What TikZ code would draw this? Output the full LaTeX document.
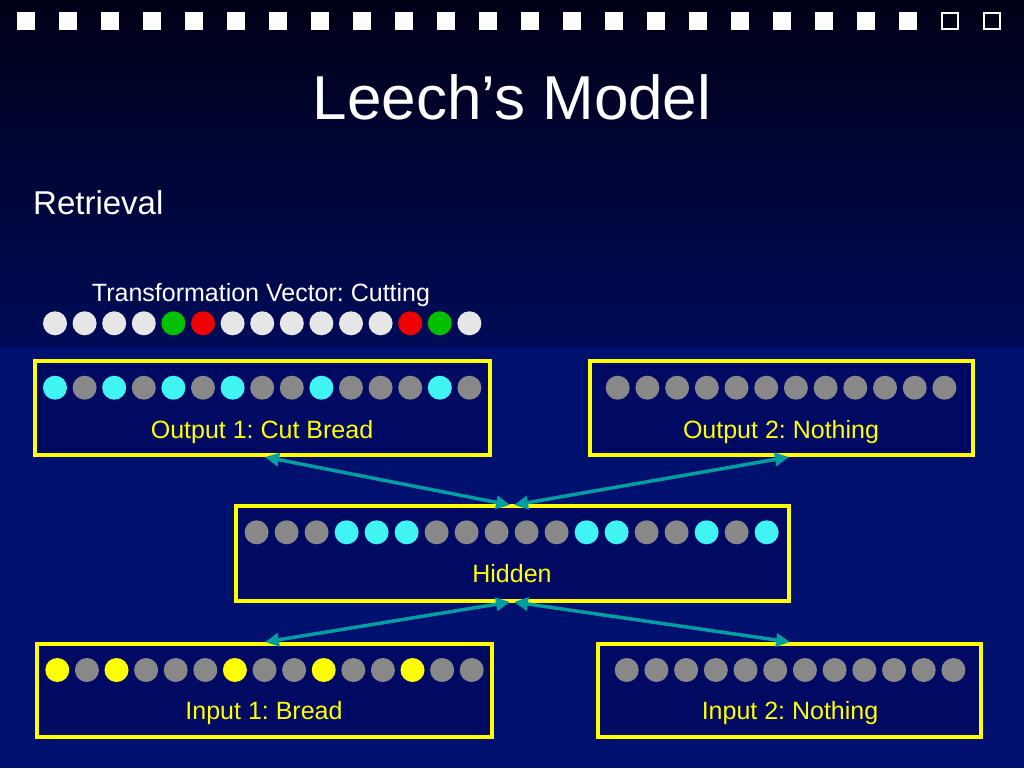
\documentclass[tikz,border=0pt]{standalone}
\usepackage{fontspec}
\setmainfont{Liberation Sans}
\frenchspacing
\usetikzlibrary{arrows.meta,calc}
\definecolor{bgtop}{HTML}{000016}
\definecolor{bgmid}{HTML}{000B58}
\definecolor{bglow}{HTML}{00106E}
\definecolor{boxfill}{HTML}{000A62}
\definecolor{ylw}{HTML}{FFFF00}
\definecolor{cyn}{HTML}{40F4F4}
\definecolor{gry}{HTML}{888888}
\definecolor{wht}{HTML}{E6E6E6}
\definecolor{grn}{HTML}{00C000}
\definecolor{rd}{HTML}{F00000}
\definecolor{tealc}{HTML}{009EA0}
\begin{document}
\begin{tikzpicture}[x=1pt,y=-1pt,
  box/.style={draw=ylw, line width=4pt, fill=boxfill, rectangle, inner sep=0pt, outer sep=0pt},
  lbl/.style={text=ylw, font=\fontsize{25}{30}\selectfont, anchor=base, inner sep=0pt},
  conn/.style={draw=tealc, line width=3.5pt, {Triangle[length=14pt,width=13pt]}-{Triangle[length=14pt,width=13pt]}},
  navsq/.style={fill=white},
  navsqo/.style={draw=white, line width=2pt, fill=bgtop}]
% background
\useasboundingbox (0,0) rectangle (1024,768);
\shade[top color=bgtop, bottom color=bgmid] (0,0) rectangle (1024,347);
\fill[bglow] (0,347) rectangle (1024,768);
% navigation squares
\foreach \i in {0,...,21} \fill[navsq] ({16.5+42*\i},12.5) rectangle ++(18,18);
\foreach \i in {22,23} \draw[navsqo] ({17.5+42*\i},13.5) rectangle ++(16,16);
% title and subtitle
\node[text=white, font=\fontsize{62}{70}\selectfont, anchor=base, inner sep=0pt] (title) at (512,119) {Leech’s Model};
\node[text=white, font=\fontsize{33}{38}\selectfont, anchor=base west, inner sep=0pt] (retr) at (33,214) {Retrieval};
\node[text=white, font=\fontsize{25}{30}\selectfont, anchor=base, inner sep=0pt] (tvlabel) at (261,301) {Transformation Vector: Cutting};
\foreach \c [count=\i from 0] in {wht,wht,wht,wht,grn,rd,wht,wht,wht,wht,wht,wht,rd,grn,wht}
  \fill[\c] ({55+29.6*\i},323.3) circle[radius=12pt];
% boxes
\node[box, minimum width=455pt, minimum height=94pt] (out1) at (262.5,408) {};
\node[box, minimum width=383pt, minimum height=94pt] (out2) at (781.5,408) {};
\node[box, minimum width=553pt, minimum height=95pt] (hid) at (512,553.5) {};
\node[box, minimum width=455pt, minimum height=93pt] (in1) at (264.5,690.5) {};
\node[box, minimum width=383pt, minimum height=93pt] (in2) at (789.5,690.5) {};
% dots
\foreach \c [count=\i from 0] in {cyn,gry,cyn,gry,cyn,gry,cyn,gry,gry,cyn,gry,gry,gry,cyn,gry}
  \fill[\c] ({55+29.6*\i},387.7) circle[radius=12pt];
\foreach \i in {0,...,11}
  \fill[gry] ({617.7+29.7*\i},387.7) circle[radius=12pt];
\foreach \c [count=\i from 0] in {gry,gry,gry,cyn,cyn,cyn,gry,gry,gry,gry,gry,cyn,cyn,gry,gry,cyn,gry,cyn}
  \fill[\c] ({256.6+30*\i},532.3) circle[radius=12pt];
\foreach \c [count=\i from 0] in {ylw,gry,ylw,gry,gry,gry,ylw,gry,gry,ylw,gry,gry,ylw,gry,gry}
  \fill[\c] ({57.3+29.6*\i},670) circle[radius=12pt];
\foreach \i in {0,...,11}
  \fill[gry] ({626.7+29.7*\i},670) circle[radius=12pt];
% labels
\node[lbl] (out1t) at (262,438) {Output 1: Cut Bread};
\node[lbl] (out2t) at (781,438) {Output 2: Nothing};
\node[lbl] (hidt) at (512,582) {Hidden};
\node[lbl] (in1t) at (264,719) {Input 1: Bread};
\node[lbl] (in2t) at (790,719) {Input 2: Nothing};
% connectors
\draw[conn] ($(out1.south west)+(230,2)$) -- ($(hid.north)+(-2,-1)$);
\draw[conn] ($(out2.south west)+(199,2)$) -- ($(hid.north)+(2,-1)$);
\draw[conn] ($(hid.south)+(-2,1)$) -- ($(in1.north west)+(228,-2)$);
\draw[conn] ($(hid.south)+(2,1)$) -- ($(in2.north west)+(192,-2)$);
\end{tikzpicture}
\end{document}
